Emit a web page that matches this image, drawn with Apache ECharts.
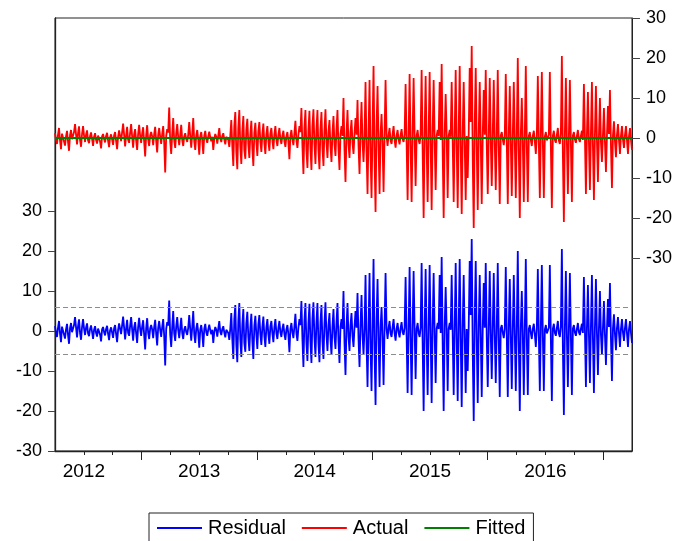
<!DOCTYPE html>
<html>
<head>
<meta charset="utf-8">
<script src="https://cdn.jsdelivr.net/npm/echarts@6/dist/echarts.min.js"></script>
<style>
html,body{margin:0;padding:0;background:#fff;}
#chart{width:675px;height:541px;}
</style>
</head>
<body>
<div id="chart"></div>
<script>
// Series values (about one reading per pixel column, Apr 2012 .. Mar 2017)
const actual = [
 // Apr 2012 .. early 2013
 1.2,-0.4,-1.5,0.8,2.5,-0.6,-2.8,1.1,0.6,-0.9,
 -1.9,0.4,1.8,-1.0,-3.2,0.7,2.0,-0.3,-0.8,1.5,
 3.5,0.9,-1.6,1.2,2.9,-0.5,-2.2,1.0,3.0,0.6,
 -1.0,0.8,1.9,-0.6,-1.3,0.5,1.4,-0.2,-2.0,0.3,
 1.2,-0.5,-1.4,0.6,0.8,-0.9,-2.6,0.4,1.0,-0.3,
 -1.1,0.5,1.3,-0.7,-2.3,0.2,0.9,-0.4,-1.7,0.6,
 1.5,-0.8,-2.8,0.3,1.9,0.5,-0.8,1.4,3.6,0.8,
 -2.1,0.6,2.8,-0.5,-1.2,1.3,3.5,0.4,-2.4,0.9,
 2.2,-0.6,-3.0,1.0,3.3,0.5,-1.2,1.1,2.7,-0.9,
 -4.6,0.7,3.2,-0.4,-2.0,0.6,1.5,
 // 2013
 0.4,-1.8,0.9,2.8,-0.7,-3.6,0.8,2.5,0.3,-1.5,
 1.0,3.0,-1.2,-8.6,0.5,2.2,1.4,7.6,-0.8,-4.0,
 0.9,5.0,-0.6,-2.5,1.1,3.5,0.2,-1.8,0.7,3.3,
 -0.5,-2.0,0.4,1.2,-0.3,-1.0,0.8,4.0,0.5,-2.4,
 1.0,5.0,-0.8,-3.0,0.6,2.0,-0.4,-4.2,0.3,1.5,
 -0.6,-4.0,0.5,1.8,-0.3,-1.2,0.4,1.6,0.2,-0.8,
 0.3,-3.0,-0.2,1.0,0.3,-1.4,0.6,2.5,-0.2,-1.0,
 0.5,1.2,-0.4,-1.6,0.3,0.8,-0.5,-2.2,0.6,4.5,
 -2.0,-7.0,3.0,6.5,-3.5,-7.8,2.5,7.0,-2.2,-6.5,
 1.5,5.5,-3.0,-5.2,2.0,4.8,
 // early 2014
 -1.5,-5.0,0.8,4.3,-2.5,-7.0,1.2,3.8,-1.0,-4.5,
 1.6,4.0,-0.8,-3.5,1.0,3.6,-1.2,-4.0,0.9,3.0,
 -0.8,-3.2,1.1,2.5,-0.6,-2.8,0.9,3.0,-0.5,-2.0,
 0.8,2.5,-0.3,-1.5,0.6,1.8,-0.8,-2.2,0.4,1.5,
 -0.9,-5.3,0.5,2.0,-0.4,-1.8,1.2,4.3,-0.6,-2.5,
 0.8,3.0,1.5,7.5,-2.0,-9.0,2.5,7.0,-3.0,-7.5,
 1.8,6.8,-2.5,-8.0,3.0,7.2,-1.5,-6.5,2.2,7.0,
 -3.0,-7.8,2.0,6.5,-2.5,-7.0,1.8,7.2,-1.0,-5.0,
 1.5,4.5,-2.0,-6.0,1.2,5.5,-1.5,-4.5,2.0,7.0,
 -2.5,-8.0,1.0,3.0,0.5,10.0,
 // late 2014 .. 2015
 -3.0,-11.0,1.0,7.0,-1.5,-5.0,1.5,4.5,-1.2,-4.0,
 1.0,5.0,0.8,9.5,-2.0,-9.0,1.5,9.0,-1.0,-6.0,
 0.5,14.0,-3.0,-14.0,1.0,14.5,-4.0,-15.0,2.0,18.0,
 -5.0,-18.5,3.0,13.0,-2.0,-14.0,1.0,6.0,-1.5,-13.5,
 0.8,14.5,0.5,-2.0,0.8,2.5,-0.6,-1.5,0.9,3.0,
 -0.5,-2.4,0.6,2.0,-0.4,-1.6,0.7,2.2,-0.3,-1.0,
 0.8,13.5,-1.0,-15.5,0.5,16.0,-2.0,-16.0,1.0,15.0,
 0.4,-12.0,0.6,2.0,-0.5,-1.5,0.8,17.0,-3.0,-20.0,
 1.0,15.5,-2.0,-16.0,0.8,16.5,-1.0,-18.0,1.5,14.5,
 -0.5,-13.0,0.6,2.0,0.5,14.0,
 // 2015 .. mid 2016
 -0.5,18.5,-3.0,-20.0,1.0,11.0,0.5,-15.0,0.6,2.0,
 0.3,14.0,-1.0,-16.0,1.0,17.0,-2.0,-17.5,1.5,18.0,
 -2.0,-19.0,1.0,14.0,-1.5,-15.5,0.5,-10.0,1.0,17.5,
 4.0,23.0,-5.0,-22.5,3.0,17.5,-2.0,-18.0,1.0,14.0,
 -1.0,-16.5,0.5,12.0,0.8,17.0,-1.5,-14.0,0.5,15.0,
 -0.5,-12.0,0.8,14.5,-1.0,-13.0,0.6,17.0,-2.0,-16.5,
 0.6,1.5,-0.4,-1.8,0.5,16.0,-1.0,-16.5,0.8,13.0,
 -1.0,-14.5,0.5,14.0,-0.8,-15.0,1.0,20.0,-3.0,-20.0,
 0.8,10.0,-1.0,-16.0,0.6,18.0,-2.0,-16.0,0.5,1.5,
 -0.5,-2.0,0.6,1.8,-0.8,-4.0,
 // mid 2016 .. Mar 2017
 0.5,15.5,-1.0,-15.0,0.8,16.5,-1.2,-15.0,0.4,1.5,
 -0.6,-1.0,0.8,16.5,-2.0,-17.5,0.6,1.8,-0.5,-1.2,
 0.8,2.5,-0.6,-1.5,1.0,20.5,-4.0,-21.0,1.0,15.0,
 -1.0,-14.0,0.5,14.5,-1.5,-16.0,0.6,1.5,-0.4,-1.2,
 0.5,2.0,-0.3,-1.0,0.6,1.8,-0.5,13.5,0.5,-14.0,
 0.6,11.5,-0.8,-13.0,1.0,14.0,-2.0,-15.5,1.0,13.0,
 -0.5,-11.0,0.6,10.0,-1.0,-6.0,0.8,7.5,-1.0,-8.5,
 0.5,8.0,1.0,12.0,-2.0,-12.5,0.6,4.2,-0.8,-4.8,
 0.8,3.5,-0.5,-4.0,0.6,3.0,-0.4,-2.5,0.8,3.0,
 -0.6,-4.0,0.5,2.5,-0.5,-3.0
];
// the lower panel reads the same as the upper one (fitted is flat at zero)
const residual = actual.slice();
const fitted = [0.0, 0.0];
const stdBand = [5.85, -5.85];

const startYear = 2012.25, endYear = 2017.25;
const yearLabels = [2012.5, 2013.5, 2014.5, 2015.5, 2016.5];
const yearTicks = [2013, 2014, 2015, 2016, 2017];
const quarterTicks = [2012.5, 2012.75, 2013, 2013.25, 2013.5, 2013.75, 2014, 2014.25, 2014.5, 2014.75,
  2015, 2015.25, 2015.5, 2015.75, 2016, 2016.25, 2016.5, 2016.75, 2017];
const yTicks = [-30, -20, -10, 0, 10, 20, 30];

const step = (endYear - startYear) / (actual.length - 1);
const actualData = actual.map((v, i) => [startYear + i * step, v]);
const residualData = residual.map((v, i) => [startYear + i * step, v]);
const fittedData = fitted.map((v, i) => [i === 0 ? startYear : endYear, v]);

const FONT = 'Liberation Sans, Arial, sans-serif';
const chart = echarts.init(document.getElementById('chart'), null, {renderer: 'canvas'});
chart.setOption({
  animation: false,
  backgroundColor: '#ffffff',
  grid: {left: 55, right: 43, top: 18, bottom: 90, show: true, borderColor: '#222', borderWidth: 1, backgroundColor: 'transparent'},
  legend: {
    left: 149, top: 513,
    padding: [5, 8, 8, 8],
    borderColor: '#222', borderWidth: 1,
    itemGap: 16, itemWidth: 45, itemHeight: 2,
    icon: 'rect',
    textStyle: {fontFamily: FONT, fontSize: 20, color: '#000', padding: [0, 0, 0, 1]},
    data: ['Residual', 'Actual', 'Fitted']
  },
  xAxis: [{
    type: 'value', min: startYear, max: endYear, position: 'bottom',
    axisLine: {show: true, onZero: false, lineStyle: {color: '#222', width: 1.3}},
    axisTick: {show: true, inside: false, length: 4, customValues: quarterTicks, lineStyle: {color: '#222'}},
    axisLabel: {show: true, customValues: yearLabels, margin: 11, fontFamily: FONT, fontSize: 19, color: '#000',
      formatter: v => String(Math.floor(v))},
    splitLine: {show: false}
  }, {
    type: 'value', min: startYear, max: endYear, position: 'bottom',
    axisLine: {show: false, onZero: false},
    axisTick: {show: true, inside: false, length: 9, customValues: yearTicks, lineStyle: {color: '#222'}},
    axisLabel: {show: false},
    splitLine: {show: false}
  }],
  yAxis: [{
    type: 'value', min: -30, max: 78.25, position: 'left',
    axisLine: {show: true, onZero: false, lineStyle: {color: '#222', width: 1.3}},
    axisTick: {show: true, inside: false, length: 7, customValues: yTicks, lineStyle: {color: '#444'}},
    axisLabel: {customValues: yTicks, margin: 13, fontFamily: FONT, fontSize: 18, color: '#000'},
    splitLine: {show: false}
  }, {
    type: 'value', min: -78.25, max: 30, position: 'right',
    axisLine: {show: true, onZero: false, lineStyle: {color: '#222', width: 1}},
    axisTick: {show: true, inside: false, length: 8, customValues: yTicks, lineStyle: {color: '#444'}},
    axisLabel: {customValues: yTicks, margin: 14, fontFamily: FONT, fontSize: 18, color: '#000'},
    splitLine: {show: false}
  }],
  series: [{
    name: 'Residual', type: 'line', xAxisIndex: 0, yAxisIndex: 0,
    data: residualData, showSymbol: false, symbol: 'none',
    lineStyle: {color: '#0000ff', width: 1.8}, itemStyle: {color: '#0000ff'},
    markLine: {
      silent: true, symbol: 'none', label: {show: false},
      lineStyle: {color: '#8c8c8c', type: [5, 3], width: 1},
      data: stdBand.map(v => ({yAxis: v}))
    }
  }, {
    name: 'Actual', type: 'line', xAxisIndex: 0, yAxisIndex: 1,
    data: actualData, showSymbol: false, symbol: 'none',
    lineStyle: {color: '#ff0000', width: 1.8}, itemStyle: {color: '#ff0000'}
  }, {
    name: 'Fitted', type: 'line', xAxisIndex: 0, yAxisIndex: 1,
    data: fittedData, showSymbol: false, symbol: 'none',
    lineStyle: {color: '#008000', width: 2.2}, itemStyle: {color: '#008000'}
  }]
});
</script>
</body>
</html>
